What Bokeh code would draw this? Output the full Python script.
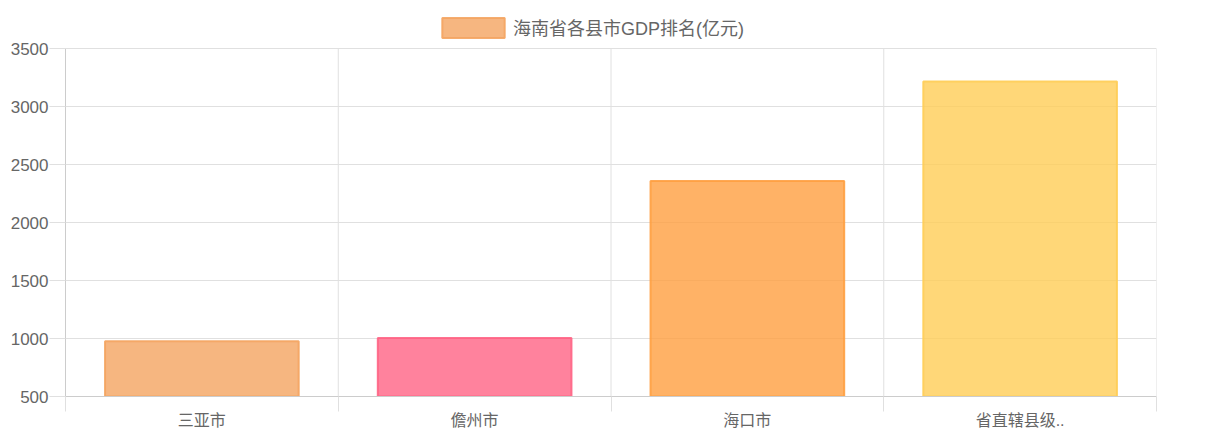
from bokeh.plotting import figure
from bokeh.models import ColumnDataSource, FixedTicker, Legend, LegendItem, Range1d
from bokeh.embed import file_html
from bokeh.resources import INLINE

categories = ["三亚市", "儋州市", "海口市", "省直辖县级.."]
values = [976, 1005, 2358, 3216]
fill_colors = ["rgba(244,164,96,0.8)", "rgba(255,99,132,0.8)", "rgba(255,159,64,0.8)", "rgba(255,205,86,0.8)"]
line_colors = ["rgba(244,164,96,0.9)", "rgba(255,99,132,0.9)", "rgba(255,159,64,0.9)", "rgba(255,205,86,0.9)"]
series_name = "海南省各县市GDP排名(亿元)"
y_ticks = [500, 1000, 1500, 2000, 2500, 3000, 3500]

FONT = "Liberation Sans, Noto Sans CJK SC"
TXT = "#666666"
GRID = "#e0e0e0"

# layout (pixels): plot area from y=48 to y=396; the legend sits in the space above it
PLOT_TOP_PX, PLOT_BOTTOM_PX = 48, 396
ymin, ymax = y_ticks[0], y_ticks[-1]
px_per_unit = (PLOT_BOTTOM_PX - PLOT_TOP_PX) / (ymax - ymin)
y_view_end = ymax + PLOT_TOP_PX / px_per_unit

n = len(categories)
xs = [i + 0.5 for i in range(n)]
bounds = list(range(n + 1))
src = ColumnDataSource(dict(x=xs, top=values, fill=fill_colors, line=line_colors))

p = figure(width=1200, height=434, output_backend="svg", toolbar_location=None,
           x_range=Range1d(0, n), y_range=Range1d(ymin, y_view_end),
           min_border_left=65, min_border_right=44, min_border_top=0, min_border_bottom=38)
p.outline_line_color = None

# vertical grid lines between categories, limited to the value range
p.segment(x0=bounds, y0=[ymin] * len(bounds), x1=bounds, y1=[ymax] * len(bounds),
          line_color=GRID, line_width=1, level="underlay")

r = p.vbar(x="x", top="top", bottom=ymin, width=0.71, source=src,
           fill_color="fill", line_color="line", line_width=2)

# x axis
p.xaxis.ticker = FixedTicker(ticks=xs, minor_ticks=bounds)
p.xaxis.major_label_overrides = {x: c for x, c in zip(xs, categories)}
p.xaxis.major_tick_out = 0
p.xaxis.major_tick_in = 0
p.xaxis.minor_tick_out = 15
p.xaxis.minor_tick_in = 0
p.xaxis.minor_tick_line_color = GRID
p.xaxis.axis_line_color = "#cccccc"
p.xaxis.major_label_standoff = 0
p.xaxis.major_label_text_font = FONT
p.xaxis.major_label_text_font_size = "16px"
p.xaxis.major_label_text_color = TXT

# y axis
p.yaxis.ticker = FixedTicker(ticks=y_ticks, minor_ticks=[])
p.yaxis.bounds = (ymin, ymax)
p.yaxis.major_tick_out = 16
p.yaxis.major_tick_in = 0
p.yaxis.major_tick_line_color = GRID
p.yaxis.axis_line_color = "#cccccc"
p.yaxis.major_label_standoff = 1
p.yaxis.major_label_text_font = FONT
p.yaxis.major_label_text_font_size = "17px"
p.yaxis.major_label_text_color = TXT

p.xgrid.grid_line_color = None
p.ygrid.ticker = FixedTicker(ticks=y_ticks)
p.ygrid.grid_line_color = GRID

legend = Legend(items=[LegendItem(label=series_name, renderers=[r], index=0)],
                location=(369, 356), orientation="horizontal",
                glyph_width=78, glyph_height=25, label_text_font=FONT,
                label_text_font_size="18px", label_text_color=TXT,
                border_line_color=None, background_fill_alpha=0,
                margin=0, padding=4, label_standoff=1)
p.add_layout(legend)

open("out.html", "w").write(file_html(p, INLINE))
